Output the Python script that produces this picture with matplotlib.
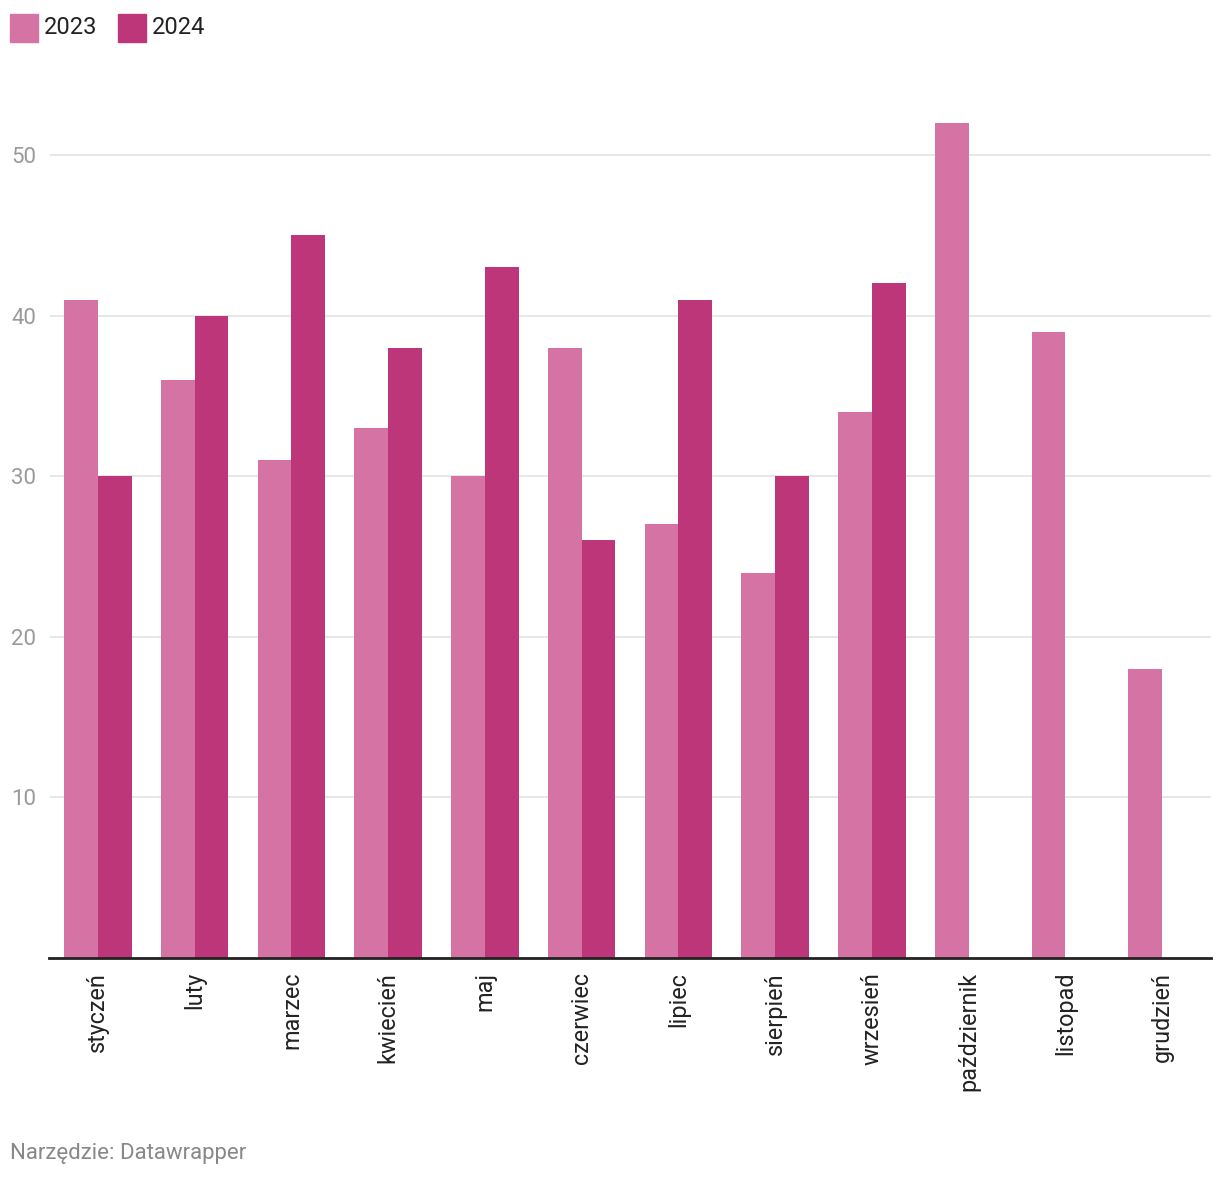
import matplotlib
matplotlib.use("Agg")
import matplotlib.pyplot as plt
import numpy as np
from matplotlib.patches import Rectangle

plt.rcParams["font.family"] = ["Roboto", "DejaVu Sans"]

months = ["styczeń", "luty", "marzec", "kwiecień", "maj", "czerwiec",
          "lipiec", "sierpień", "wrzesień", "październik", "listopad", "grudzień"]
values_2023 = [41, 36, 31, 33, 30, 38, 27, 24, 34, 52, 39, 18]
values_2024 = [30, 40, 45, 38, 43, 26, 41, 30, 42, np.nan, np.nan, np.nan]
yticks = [10, 20, 30, 40, 50]

c23 = "#d473a4"
c24 = "#be367a"

W, H = 1220, 1178
fig = plt.figure(figsize=(W / 100, H / 100), dpi=100)
ax = fig.add_axes([49.5 / W, (H - 958) / H, 1161 / W, (958 - 74.7) / H])

x = np.arange(len(months))
bw = 0.35
ax.bar(x - bw / 2, values_2023, bw, color=c23, zorder=2)
ax.bar(x + bw / 2, values_2024, bw, color=c24, zorder=2)

ax.set_xlim(-0.5, len(months) - 0.5)
ax.set_ylim(0, 55)
ax.set_yticks(yticks)
ax.yaxis.grid(True, color="#e3e3e3", linewidth=1.2, zorder=0)
ax.tick_params(axis="y", length=0, pad=0, labelsize=16, labelcolor="#9a9a9a")
for lbl in ax.get_yticklabels():
    lbl.set_horizontalalignment("left")
    lbl.set_x(-38.5 / 1161)

ax.set_xticks(x)
ax.set_xticklabels(months, rotation=90, fontsize=16.8, color="#222222", va="top")
ax.tick_params(axis="x", length=0, pad=10)

for s in ["top", "right", "left"]:
    ax.spines[s].set_visible(False)
ax.spines["bottom"].set_color("#222222")
ax.spines["bottom"].set_linewidth(2)
ax.spines["bottom"].set_zorder(3)

# legend
for x0, col, lab in [(10, c23, "2023"), (118, c24, "2024")]:
    fig.patches.append(Rectangle((x0 / W, (H - 42) / H), 28 / W, 28 / H,
                                 transform=fig.transFigure, color=col))
    fig.text((x0 + 34) / W, (H - 27) / H, lab, fontsize=17, color="#222222",
             va="center", ha="left")

fig.text(10 / W, (H - 1153) / H, "Narzędzie: Datawrapper", fontsize=16,
         color="#888888", va="center", ha="left")

fig.savefig("out.png", dpi=100)
